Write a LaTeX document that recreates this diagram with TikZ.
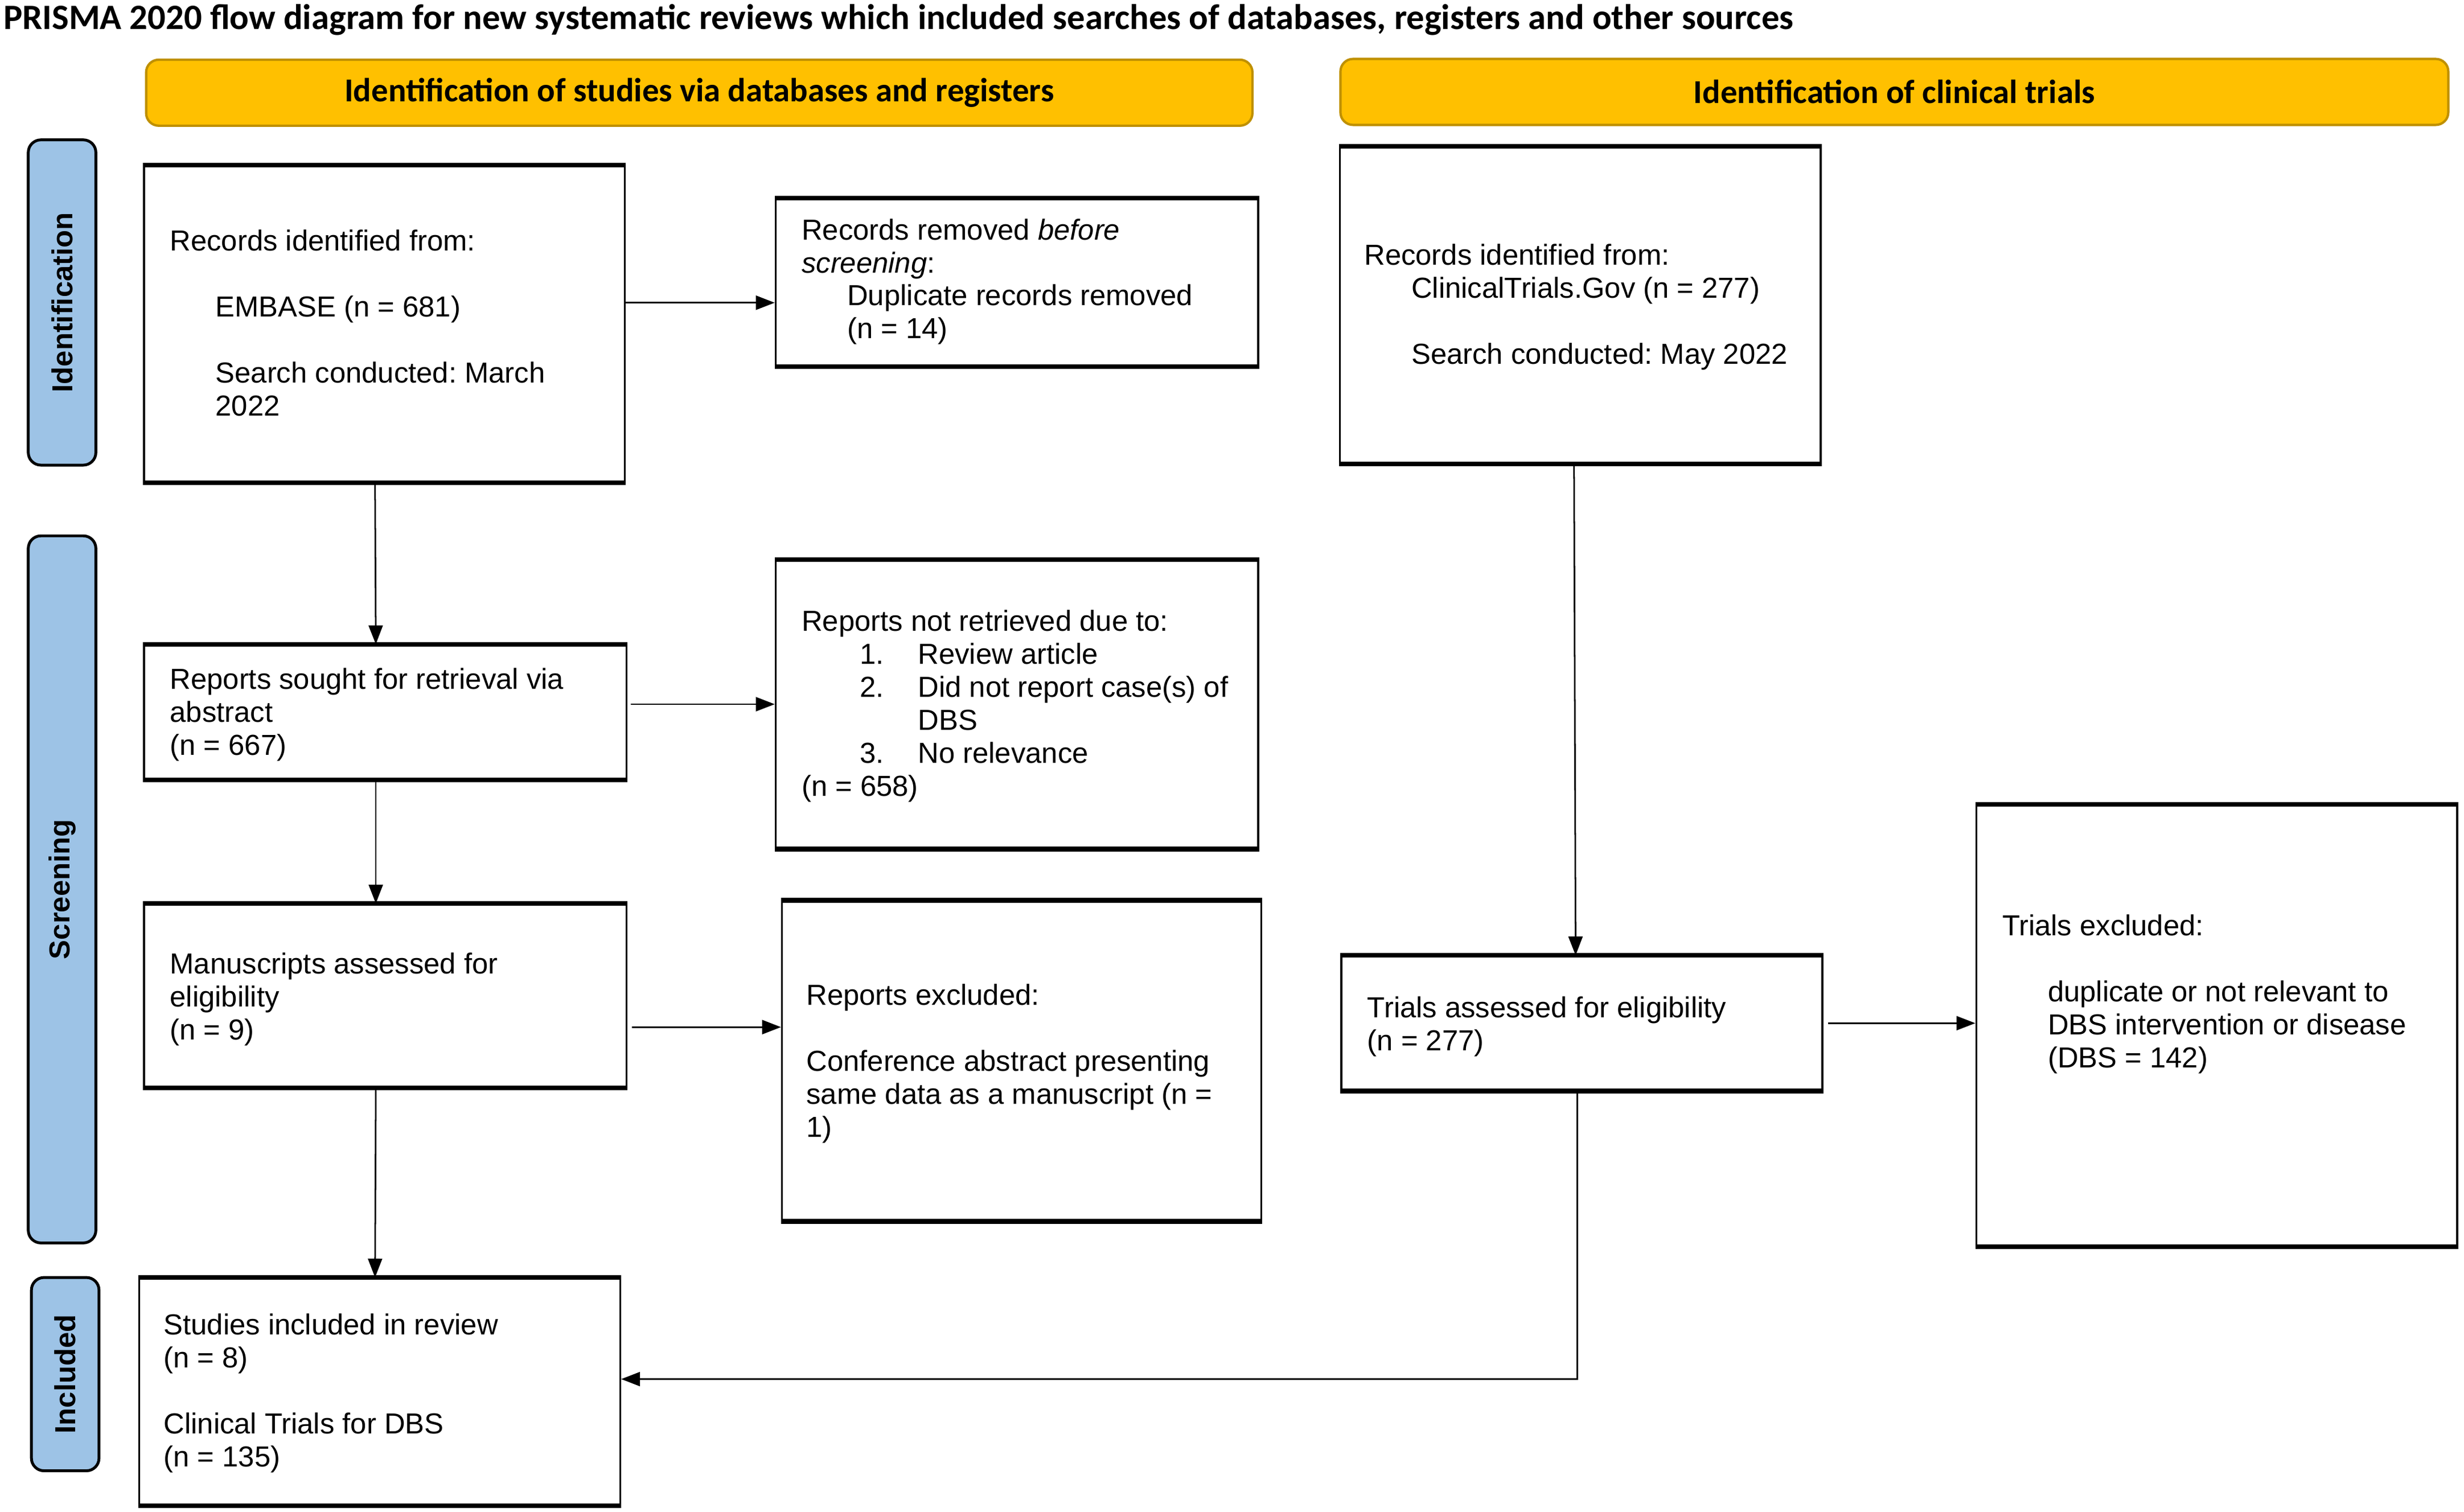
\documentclass[tikz,border=0pt]{standalone}
\usepackage{fontspec}
\setmainfont{Liberation Sans}
\newfontfamily\calfont{Carlito}
\usetikzlibrary{arrows.meta,calc}
\definecolor{hdr}{HTML}{FFC000}
\definecolor{hdrline}{HTML}{BF9000}
\definecolor{sideblue}{HTML}{9DC3E6}
\frenchspacing
\begin{document}
\begin{tikzpicture}[x=1pt,y=-1pt,
  box/.style={draw=black, line width=1.3pt, anchor=north west, inner sep=0pt},
  txt/.style={anchor=north west, inner sep=0pt, align=left, font=\frenchspacing\fontsize{18.4}{21}\selectfont},
  hdrbox/.style={draw=hdrline, fill=hdr, line width=1.5pt, rounded corners=8pt, inner sep=0pt,
     font=\calfont\bfseries\fontsize{21.3}{24}\selectfont},
  sidebox/.style={draw=black, fill=sideblue, line width=1.8pt, rounded corners=8pt, inner sep=0pt,
     rotate=90, font=\bfseries\fontsize{18.4}{21}\selectfont},
  arr/.style={line width=1pt, -{Triangle[length=12pt,width=9pt]}},
  edge/.style={line width=3pt}]
\useasboundingbox (0,0) rectangle (1568,962);
\fill[white] (0,0) rectangle (1568,962);

% title
\node[anchor=west, inner sep=0pt, font=\calfont\bfseries\fontsize{22.7}{26}\selectfont] (title) at (2,12.5)
  {PRISMA 2020 flow diagram for new systematic reviews which included searches of databases, registers and other sources};

% headers
\node[hdrbox, minimum width=704pt, minimum height=42pt] (H1) at (445,59) {Identification of studies via databases and registers};
\node[hdrbox, minimum width=705pt, minimum height=42pt] (H2) at (1205.5,58.5) {Identification of clinical trials};

% side labels
\node[sidebox, minimum width=207pt, minimum height=43pt] (L1) at (39.5,192.5) {Identification};
\node[sidebox, minimum width=450pt, minimum height=43pt] (L2) at (39.5,566) {Screening};
\node[sidebox, minimum width=123pt, minimum height=43pt] (L3) at (41.5,874.5) {Included};

% boxes
\node[box, minimum width=306pt, minimum height=201pt] (A) at (91,105) {};
\node[box, minimum width=307pt, minimum height=106pt] (B) at (493,126) {};
\node[box, minimum width=307pt, minimum height=85pt] (C) at (91,410) {};
\node[box, minimum width=307pt, minimum height=183pt] (D) at (493,356) {};
\node[box, minimum width=307pt, minimum height=116pt] (E) at (91,575) {};
\node[box, minimum width=305pt, minimum height=203pt] (F) at (497,573) {};
\node[box, minimum width=306pt, minimum height=144pt] (G) at (88,813) {};
\node[box, minimum width=306pt, minimum height=201pt] (H) at (852,93) {};
\node[box, minimum width=306pt, minimum height=85pt] (I) at (853,608) {};
\node[box, minimum width=306pt, minimum height=280pt] (J) at (1257,512) {};

\foreach \n in {A,B,C,D,E,F,G,H,I,J}
  \draw[edge] (\n.north west) -- (\n.north east) (\n.south west) -- (\n.south east);

% texts
\node[txt] (At) at (108,146) {Records identified from:\\[21pt]\hspace*{29pt}EMBASE (n = 681)\\[21pt]\hspace*{29pt}Search conducted: March\\\hspace*{29pt}2022};
\node[txt] (Bt) at (510,139) {Records removed \textit{before}\\\textit{screening}:\\\hspace*{29pt}Duplicate records removed\\\hspace*{29pt}(n = 14)};
\node[txt] (Ct) at (108,425) {Reports sought for retrieval via\\abstract\\(n = 667)};
\node[txt] (Dt) at (510,388) {Reports not retrieved due to:\\\hspace*{37pt}\makebox[37pt][l]{1.}Review article\\\hspace*{37pt}\makebox[37pt][l]{2.}Did not report case(s) of\\\hspace*{74pt}DBS\\\hspace*{37pt}\makebox[37pt][l]{3.}No relevance\\(n = 658)};
\node[txt] (Et) at (108,606) {Manuscripts assessed for\\eligibility\\(n = 9)};
\node[txt] (Ft) at (513,626) {Reports excluded:\\[21pt]Conference abstract presenting\\same data as a manuscript (n =\\1)};
\node[txt] (Gt) at (104,836) {Studies included in review\\(n = 8)\\[21pt]Clinical Trials for DBS\\(n = 135)};
\node[txt] (Ht) at (868,155) {Records identified from:\\\hspace*{30pt}ClinicalTrials.Gov (n = 277)\\[21pt]\hspace*{30pt}Search conducted: May 2022};
\node[txt] (It) at (870,634) {Trials assessed for eligibility\\(n = 277)};
\node[txt] (Jt) at (1274,582) {Trials excluded:\\[21pt]\hspace*{29pt}duplicate or not relevant to\\\hspace*{29pt}DBS intervention or disease\\\hspace*{29pt}(DBS = 142)};

% connectors
\coordinate (ab) at ([yshift=-13pt]B.west);
\draw[arr] (A.east |- ab) -- (ab);
\draw[arr] ([xshift=-6pt]A.south) -- ([xshift=-6pt]C.north);
\draw[arr] ([xshift=2pt]C.east |- D.west) -- (D.west);
\draw[arr] ([xshift=-6pt]C.south) -- ([xshift=-6pt]E.north);
\coordinate (ef) at ([yshift=21.5pt]F.west);
\draw[arr] ([xshift=3pt]E.east |- ef) -- (ef);
\draw[arr] ([xshift=-6pt]E.south) -- ([xshift=-3pt]G.north);
\draw[arr] ([xshift=-4pt]H.south) -- ([xshift=-4pt]I.north);
\draw[arr] ([xshift=3pt]I.east) -- (J.west |- I.east);
\coordinate (gin) at ([yshift=8pt]G.east);
\draw[arr] ([xshift=-3pt]I.south) |- (gin);
\end{tikzpicture}
\end{document}
